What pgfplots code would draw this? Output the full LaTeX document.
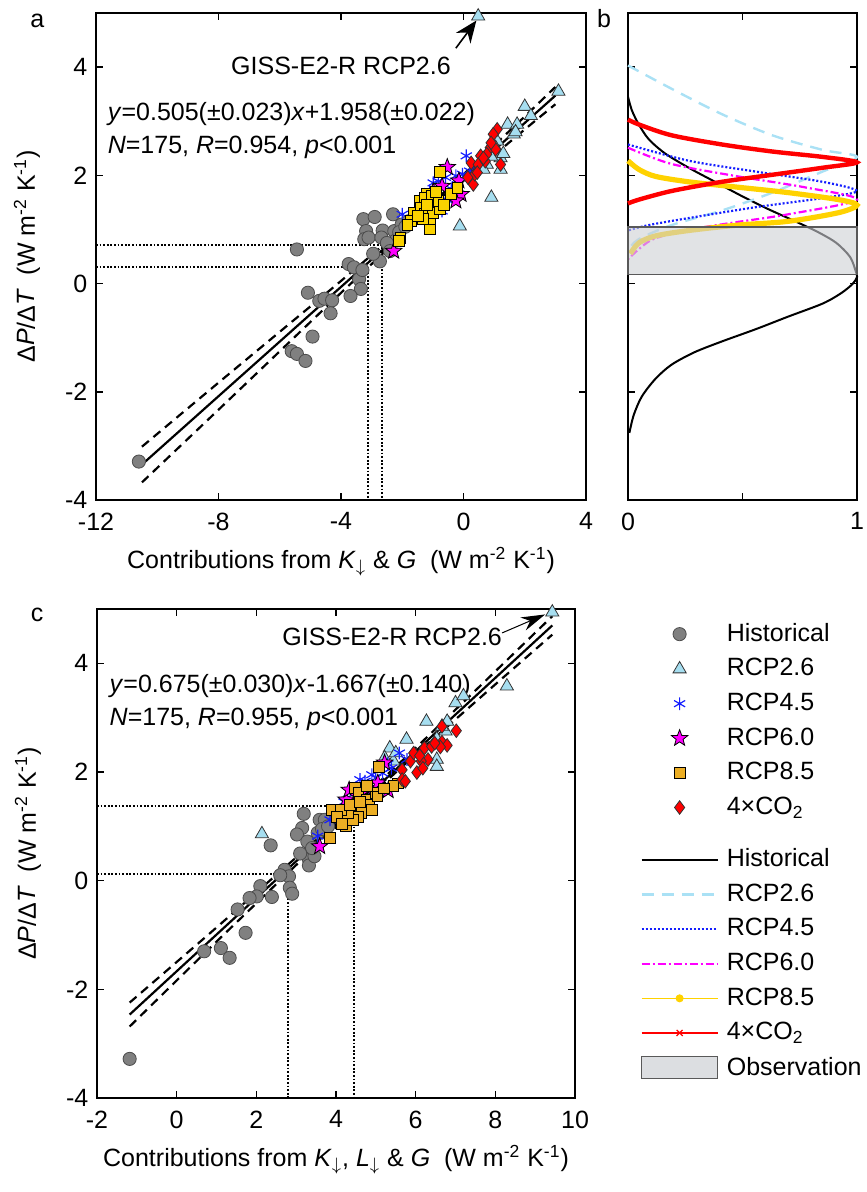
\documentclass[border=0pt]{standalone}
\usepackage{fontspec}
\setmainfont{Liberation Sans}
\usepackage{pgfplots}
\pgfplotsset{compat=1.18}
\usetikzlibrary{arrows.meta}

\definecolor{histgray}{RGB}{128,128,128}
\definecolor{rcp26c}{RGB}{166,222,240}
\definecolor{rcp26l}{RGB}{170,225,245}
\definecolor{rcp45c}{RGB}{20,30,255}
\definecolor{rcp60c}{RGB}{255,0,255}
\definecolor{rcp85a}{RGB}{250,210,0}
\definecolor{rcp85c}{RGB}{236,174,36}
\definecolor{rcp85l}{RGB}{255,210,0}
\definecolor{co2c}{RGB}{255,0,0}
\definecolor{obsgray}{RGB}{205,208,212}

% filled five-point star
\pgfdeclareplotmark{fstar}{%
  \pgfpathmoveto{\pgfpointpolar{90}{\pgfplotmarksize}}%
  \pgfpathlineto{\pgfpointpolar{126}{0.42\pgfplotmarksize}}%
  \pgfpathlineto{\pgfpointpolar{162}{\pgfplotmarksize}}%
  \pgfpathlineto{\pgfpointpolar{198}{0.42\pgfplotmarksize}}%
  \pgfpathlineto{\pgfpointpolar{234}{\pgfplotmarksize}}%
  \pgfpathlineto{\pgfpointpolar{270}{0.42\pgfplotmarksize}}%
  \pgfpathlineto{\pgfpointpolar{306}{\pgfplotmarksize}}%
  \pgfpathlineto{\pgfpointpolar{342}{0.42\pgfplotmarksize}}%
  \pgfpathlineto{\pgfpointpolar{18}{\pgfplotmarksize}}%
  \pgfpathlineto{\pgfpointpolar{54}{0.42\pgfplotmarksize}}%
  \pgfpathclose\pgfusepathqfillstroke}

\pgfplotsset{
  panel/.style={scale only axis, clip=false,
    axis line style={line width=1pt},
    tick align=inside, major tick length=3.5pt,
    tick style={line width=0.8pt, black},
    ylabel shift=4pt,
    xticklabel style={yshift=-2pt},
    /pgf/number format/assume math mode=true},
  hist/.style={only marks, mark=*, mark size=3.3pt,
    mark options={fill=histgray, draw=black!70, line width=0.4pt}},
  r26/.style={only marks, mark=triangle*, mark size=3.8pt,
    mark options={fill=rcp26c, draw=black!80, line width=0.4pt}},
  r45/.style={only marks, mark=asterisk, mark size=3.2pt,
    mark options={draw=rcp45c, line width=0.6pt}},
  r60/.style={only marks, mark=fstar, mark size=4.3pt,
    mark options={fill=rcp60c, draw=black, line width=0.4pt}},
  r85/.style={only marks, mark=square*, mark size=2.7pt,
    mark options={fill=#1, draw=black, line width=0.4pt}},
  co2/.style={only marks, mark=diamond*, mark size=3.4pt,
    mark options={fill=co2c, draw=black!80, line width=0.4pt}},
  fitline/.style={black, line width=1.1pt},
  fitband/.style={black, line width=1.1pt, dash pattern=on 4.5pt off 3pt},
  guide/.style={black, line width=0.9pt, dash pattern=on 0.9pt off 0.9pt},
}

\begin{document}
\fontsize{12.5}{15}\selectfont
\begin{tikzpicture}
\useasboundingbox (0,0) rectangle (433pt,596pt);

% ---------------- panel a ----------------
\begin{axis}[panel, at={(48pt,346pt)}, anchor=south west,
  width=245pt, height=243.5pt,
  xmin=-12, xmax=4, ymin=-4, ymax=5,
  xtick={-12,-8,-4,0,4}, ytick={-4,-2,0,2,4},
  xlabel={Contributions from \textit{K}\textsubscript{$\downarrow$} \& \textit{G}\ \ (W m\textsuperscript{-2} K\textsuperscript{-1})},
  ylabel={Δ\textit{P}/Δ\textit{T}\ \ (W m\textsuperscript{-2} K\textsuperscript{-1})},
]
\addplot[guide] coordinates {(-12,0.71) (-2.67,0.71) (-2.67,-4)};
\addplot[guide] coordinates {(-12,0.30) (-3.12,0.30) (-3.12,-4)};

\addplot[hist] coordinates {
 (-10.60,-3.29) (-5.44,0.63) (-3.27,1.19) (-2.90,1.23) (-2.30,1.28) (-3.18,0.97)
 (-3.24,0.82) (-3.10,0.85) (-2.64,0.98) (-2.68,0.85) (-2.26,0.97) (-2.02,1.09)
 (-2.23,0.79) (-2.73,0.41) (-3.75,0.36) (-3.41,0.08) (-3.35,-0.10) (-3.69,-0.23)
 (-5.08,-0.17) (-4.71,-0.32) (-4.54,-0.28) (-4.29,-0.31) (-4.34,-0.55) (-4.93,-0.98)
 (-5.61,-1.25) (-5.44,-1.30) (-5.16,-1.43) (-3.58,0.30) (-3.30,0.25) (-2.50,0.75)
 (-2.10,0.95) (-1.90,1.05) (-1.80,1.15) (-2.40,0.60) (-2.95,0.55)};
\addplot[r26] coordinates {
 (0.48,4.94) (3.10,3.55) (2.00,3.27) (1.44,2.94) (1.75,2.94) (1.64,2.76)
 (1.70,2.80) (1.10,2.63) (1.05,2.51) (1.21,2.32) (1.21,2.11) (0.91,1.59)
 (-0.12,1.06) (0.76,2.20) (0.65,2.11) (1.30,2.40) (0.90,2.35) (2.20,3.10)};
\addplot[r45] coordinates {
 (0.09,2.36) (-2.00,1.28) (-0.99,1.86) (-0.82,1.89) (-0.59,1.96) (-0.25,1.99)
 (-0.20,1.83) (-0.48,1.53) (-0.70,1.34) (-0.36,1.59) (-0.03,2.02) (0.20,2.08)
 (-0.40,1.75) (-1.10,1.70) (0.35,2.15)};
\addplot[r60] coordinates {
 (-0.53,2.15) (-2.28,0.60) (-0.99,1.70) (-0.08,1.65) (-0.25,1.53) (-1.30,1.55)
 (-0.70,1.80) (-0.15,1.90)};
\addplot[r85=rcp85a] coordinates {
 (-0.76,2.07) (-1.21,1.66) (-1.44,1.53) (-1.27,1.59) (-1.05,1.62) (-1.61,1.31)
 (-1.38,1.40) (-1.27,1.28) (-1.10,1.16) (-1.10,1.00) (-0.99,1.31) (-0.76,1.37)
 (-1.33,1.19) (-1.72,1.16) (-0.42,1.65) (-0.20,1.77) (-2.06,0.85) (-2.11,0.79)
 (-0.82,1.53) (-0.65,1.46) (-1.83,1.09) (-1.50,1.25) (-0.90,1.70) (-1.20,1.45)};
\addplot[co2] coordinates {
 (1.10,2.85) (0.97,2.76) (0.56,2.36) (0.25,2.23) (0.48,2.20) (0.71,2.26)
 (0.87,2.51) (1.21,2.20) (0.32,1.83) (0.37,2.02) (0.76,2.39) (1.05,2.48)
 (0.14,1.96) (0.65,2.32) (0.45,2.05) (0.90,2.60)};

\addplot[fitline] coordinates {(-10.5,-3.345) (3.0,3.473)};
\addplot[fitband, smooth] coordinates {
 (-10.5,-3.015) (-8,-1.832) (-6,-0.892) (-4,0.048) (-2,1.008) (-1,1.503)
 (0,2.018) (1,2.553) (2,3.088) (3,3.633)};
\addplot[fitband, smooth] coordinates {
 (-10.5,-3.675) (-8,-2.332) (-6,-1.252) (-4,-0.172) (-2,0.888) (-1,1.403)
 (0,1.898) (1,2.373) (2,2.848) (3,3.313)};

\node at (axis cs:-4.0,4.02) {GISS-E2-R RCP2.6};
\draw[-{Stealth[length=11pt,width=9pt]}, line width=0.8pt]
  (axis cs:-0.25,4.35) -- (axis cs:0.42,4.86);
\node[anchor=west] at (axis cs:-11.9,3.14)
  {\textit{y}=0.505(±0.023)\textit{x}+1.958(±0.022)};
\node[anchor=west] at (axis cs:-11.9,2.51)
  {\textit{N}=175, \textit{R}=0.954, \textit{p}<0.001};
\node[anchor=base] at (rel axis cs:-0.12,0.97) {a};
\end{axis}

% ---------------- panel b ----------------
\begin{axis}[panel, at={(314pt,346pt)}, anchor=south west,
  width=114.5pt, height=243.5pt,
  xmin=0, xmax=1, ymin=-4, ymax=5,
  xtick={0,0.5,1}, xticklabels={0,,1},
  ytick={-4,-2,0,2,4}, yticklabels={},
]
\addplot[black, line width=1pt, smooth] coordinates {
 (0,3.45) (0.017,3.20) (0.047,2.94) (0.09,2.67) (0.16,2.41) (0.265,2.14)
 (0.38,1.88) (0.50,1.61) (0.61,1.38) (0.73,1.15) (0.83,0.95) (0.91,0.75)
 (0.97,0.49) (0.995,0.22) (1.0,0.12) (0.98,-0.01) (0.93,-0.18) (0.85,-0.37)
 (0.70,-0.61) (0.56,-0.84) (0.41,-1.07) (0.29,-1.27) (0.19,-1.50) (0.12,-1.76)
 (0.06,-2.09) (0.025,-2.43) (0.006,-2.76)};
\addplot[rcp26l, line width=1.2pt, dash pattern=on 6pt off 4pt, smooth] coordinates {
 (0,4.03) (0.19,3.60) (0.41,3.13) (0.63,2.74) (0.85,2.47) (1.0,2.34)
 (0.85,2.07) (0.63,1.68) (0.41,1.35) (0.19,1.08) (0.047,0.82) (0,0.62)};
\addplot[rcp45c, line width=1.1pt, dash pattern=on 1pt off 1pt, smooth] coordinates {
 (0,2.57) (0.265,2.27) (0.556,2.07) (0.85,1.88) (1.0,1.71)
 (0.85,1.58) (0.556,1.41) (0.265,1.21) (0.09,1.08) (0,0.98)};
\addplot[rcp60c, line width=1.1pt, dash pattern=on 4pt off 1.5pt on 1pt off 1.5pt, smooth] coordinates {
 (0,2.51) (0.19,2.21) (0.48,1.98) (0.77,1.78) (1.0,1.55)
 (0.70,1.28) (0.45,1.12) (0.25,0.98) (0.10,0.80) (0,0.45)};
\addplot[rcp85l, line width=2.6pt, smooth] coordinates {
 (0,2.27) (0.047,2.11) (0.12,1.98) (0.265,1.88) (0.48,1.78) (0.70,1.68)
 (0.92,1.55) (1.0,1.45) (0.92,1.31) (0.70,1.15) (0.48,1.08) (0.265,0.98)
 (0.12,0.88) (0.047,0.75) (0.01,0.55)};
\addplot[co2c, line width=2.2pt, smooth] coordinates {
 (0,3.03) (0.047,2.94) (0.19,2.74) (0.41,2.57) (0.63,2.44) (0.85,2.34)
 (1.0,2.24) (0.85,2.14) (0.63,2.01) (0.41,1.88) (0.19,1.71) (0.047,1.55) (0,1.48)};
\addplot[fill=obsgray, fill opacity=0.6, draw=black!65, line width=0.8pt]
 coordinates {(0,0.17) (1,0.17) (1,1.05) (0,1.05)} -- cycle;
\node[anchor=base] at (rel axis cs:-0.105,0.97) {b};
\end{axis}

% ---------------- panel c ----------------
\begin{axis}[panel, at={(48.5pt,47pt)}, anchor=south west,
  width=239pt, height=244.5pt,
  xmin=-2, xmax=10, ymin=-4, ymax=5,
  xtick={-2,0,2,4,6,8,10}, ytick={-4,-2,0,2,4},
  xlabel={Contributions from \textit{K}\textsubscript{$\downarrow$}, \textit{L}\textsubscript{$\downarrow$} \& \textit{G}\ \ (W m\textsuperscript{-2} K\textsuperscript{-1})},
  ylabel={Δ\textit{P}/Δ\textit{T}\ \ (W m\textsuperscript{-2} K\textsuperscript{-1})},
  legend style={at={(1.136,0.98)}, anchor=north west, draw=none, fill=none,
    inner sep=0pt, row sep=2.7pt, column sep=2pt},
  legend cell align=left,
]
\addlegendimage{legend image code/.code={\path[mark=*,mark size=3.3pt,mark options={fill=histgray,draw=black!70,line width=0.4pt}] plot coordinates {(19pt,0pt)};}}
\addlegendentry{Historical}
\addlegendimage{legend image code/.code={\path[mark=triangle*,mark size=3.8pt,mark options={fill=rcp26c,draw=black!80,line width=0.4pt}] plot coordinates {(19pt,0pt)};}}
\addlegendentry{RCP2.6}
\addlegendimage{legend image code/.code={\path[mark=asterisk,mark size=3.2pt,mark options={draw=rcp45c,line width=0.6pt}] plot coordinates {(19pt,0pt)};}}
\addlegendentry{RCP4.5}
\addlegendimage{legend image code/.code={\path[mark=fstar,mark size=4.3pt,mark options={fill=rcp60c,draw=black,line width=0.4pt}] plot coordinates {(19pt,0pt)};}}
\addlegendentry{RCP6.0}
\addlegendimage{legend image code/.code={\path[mark=square*,mark size=2.7pt,mark options={fill=rcp85c,draw=black,line width=0.4pt}] plot coordinates {(19pt,0pt)};}}
\addlegendentry{RCP8.5}
\addlegendimage{legend image code/.code={\path[mark=diamond*,mark size=3.4pt,mark options={fill=co2c,draw=black!80,line width=0.4pt}] plot coordinates {(19pt,0pt)};}}
\addlegendentry{4×CO\textsubscript{2}}
\addlegendimage{empty legend}
\addlegendentry{}
\addlegendimage{legend image code/.code={\draw[black,line width=1pt] (0pt,0pt) -- (38pt,0pt);}}
\addlegendentry{Historical}
\addlegendimage{legend image code/.code={\draw[rcp26l,line width=1.2pt,dash pattern=on 6pt off 4pt] (0pt,0pt) -- (38pt,0pt);}}
\addlegendentry{RCP2.6}
\addlegendimage{legend image code/.code={\draw[rcp45c,line width=1.1pt,dash pattern=on 1pt off 1pt] (0pt,0pt) -- (38pt,0pt);}}
\addlegendentry{RCP4.5}
\addlegendimage{legend image code/.code={\draw[rcp60c,line width=1.1pt,dash pattern=on 4pt off 1.5pt on 1pt off 1.5pt] (0pt,0pt) -- (38pt,0pt);}}
\addlegendentry{RCP6.0}
\addlegendimage{legend image code/.code={\draw[rcp85l,line width=0.6pt] (0pt,0pt) -- (38pt,0pt); \fill[rcp85l] (19pt,0pt) circle (1.8pt);}}
\addlegendentry{RCP8.5}
\addlegendimage{legend image code/.code={\draw[co2c,line width=0.6pt] (0pt,0pt) -- (38pt,0pt); \draw[co2c,line width=0.6pt] (17.5pt,-1.5pt) -- (20.5pt,1.5pt) (17.5pt,1.5pt) -- (20.5pt,-1.5pt);}}
\addlegendentry{4×CO\textsubscript{2}}
\addlegendimage{legend image code/.code={\draw[fill=obsgray!70,draw=black!65,line width=0.6pt] (0pt,-5.5pt) rectangle (38pt,5.5pt);}}
\addlegendentry{Observation}

\addplot[guide] coordinates {(-2,1.37) (4.45,1.37) (4.45,-4)};
\addplot[guide] coordinates {(-2,0.13) (2.80,0.13) (2.80,-4)};

\addplot[hist] coordinates {
 (-1.18,-3.28) (2.36,0.65) (3.19,1.23) (3.15,0.97) (3.02,0.85) (3.28,0.72)
 (3.59,1.12) (3.72,1.12) (3.54,0.88) (3.32,0.39) (3.32,0.28) (2.71,0.20)
 (2.82,0.08) (2.84,-0.13) (2.90,-0.24) (2.10,-0.10) (2.01,-0.29) (1.83,-0.32)
 (2.39,-0.30) (1.53,-0.53) (1.73,-0.96) (1.11,-1.24) (1.33,-1.42) (0.69,-1.30)
 (3.46,0.45) (3.40,0.60) (3.65,0.95) (3.80,1.00) (3.10,0.50) (2.60,0.10)};
\addplot[r26] coordinates {
 (9.43,4.94) (8.29,3.58) (7.00,3.27) (6.27,2.93) (5.77,2.60) (5.35,2.44)
 (5.22,2.26) (5.44,2.20) (2.14,0.86) (6.53,2.23) (6.53,2.10) (6.75,2.75)
 (6.79,2.93) (6.53,2.61) (6.66,2.84) (5.50,2.35) (7.20,3.40)};
\addplot[r45] coordinates {
 (5.59,2.35) (4.60,1.86) (4.73,1.83) (5.00,1.89) (5.17,1.98) (5.39,2.07)
 (3.85,1.12) (3.54,0.82) (4.82,1.49) (4.64,1.31) (5.78,2.23) (4.90,1.95)
 (5.30,2.15) (4.45,1.60) (4.20,1.45)};
\addplot[r60] coordinates {
 (3.59,0.63) (4.25,1.49) (4.33,1.67) (5.22,2.17) (5.31,1.66) (4.80,1.70) (5.05,1.80)};
\addplot[r85=rcp85c] coordinates {
 (5.08,2.09) (3.90,1.31) (3.85,0.79) (4.25,1.00) (4.47,1.71) (4.56,1.61)
 (4.77,1.49) (4.82,1.40) (4.64,1.25) (4.56,1.18) (4.43,1.12) (4.30,1.25)
 (4.12,1.31) (4.03,1.18) (5.00,1.61) (5.56,1.79) (5.44,1.74) (5.04,1.55)
 (4.78,1.74) (4.35,1.40) (4.60,1.45) (4.90,1.30) (5.20,1.70) (4.15,1.05)};
\addplot[co2] coordinates {
 (7.02,2.76) (6.66,2.55) (6.79,2.49) (6.62,2.46) (6.31,2.23) (6.14,2.20)
 (6.03,1.99) (6.18,2.07) (5.87,2.20) (5.66,2.04) (5.66,1.86) (5.74,1.83)
 (6.22,2.44) (6.40,2.47) (6.48,2.53) (6.66,2.84) (5.95,2.35) (6.10,2.30)};

\addplot[fitline] coordinates {(-1.18,-2.464) (9.43,4.698)};
\addplot[fitband, smooth] coordinates {
 (-1.18,-2.244) (0,-1.497) (1,-0.862) (2,-0.217) (3,0.428) (4,1.083)
 (5,1.758) (6,2.443) (7,3.148) (8,3.853) (9.43,4.868)};
\addplot[fitband, smooth] coordinates {
 (-1.18,-2.684) (0,-1.837) (1,-1.122) (2,-0.417) (3,0.288) (4,0.983)
 (5,1.658) (6,2.323) (7,2.968) (8,3.613) (9.43,4.528)};

\node at (axis cs:5.41,4.49) {GISS-E2-R RCP2.6};
\draw[-{Stealth[length=12pt,width=7pt]}, line width=0.5pt]
  (axis cs:8.17,4.56) -- (axis cs:9.25,4.90);
\node[anchor=west] at (axis cs:-1.9,3.58)
  {\textit{y}=0.675(±0.030)\textit{x}-1.667(±0.140)};
\node[anchor=west] at (axis cs:-1.9,2.96)
  {\textit{N}=175, \textit{R}=0.955, \textit{p}<0.001};
\node[anchor=base] at (rel axis cs:-0.125,0.975) {c};
\end{axis}
\end{tikzpicture}
\end{document}
